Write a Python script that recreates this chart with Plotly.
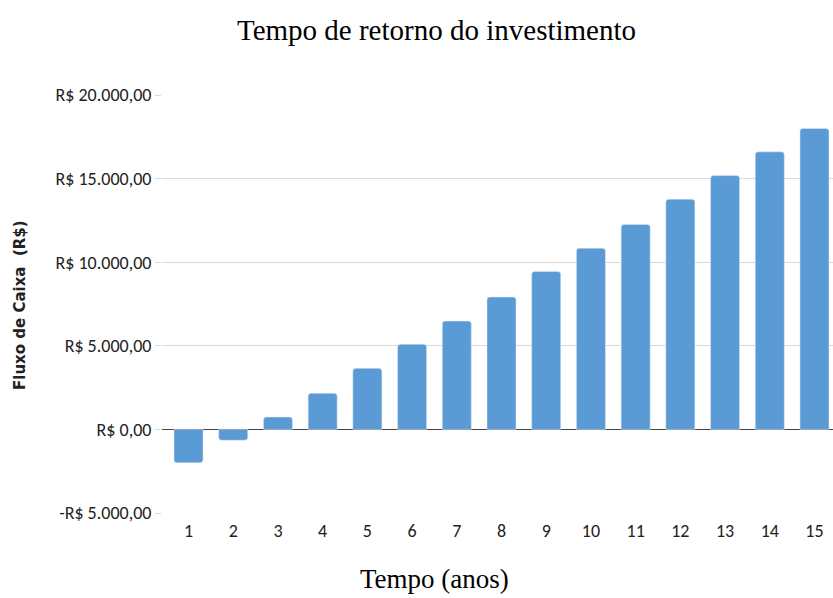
import plotly.graph_objects as go

anos = list(range(1, 16))
fluxo = [-2000, -650, 740, 2160, 3650, 5090, 6480, 7920, 9440, 10840, 12260, 13770, 15180, 16600, 18000]
y_ticks = [-5000, 0, 5000, 10000, 15000, 20000]
y_labels = ["-R$ 5.000,00", "R$ 0,00", "R$ 5.000,00", "R$ 10.000,00", "R$ 15.000,00", "R$ 20.000,00"]

tick_family = "Carlito, 'Liberation Sans Narrow', 'DejaVu Sans Condensed', 'Open Sans'"

fig = go.Figure(go.Bar(x=anos, y=fluxo, marker_color="#5b9bd5", width=0.65))

fig.update_layout(
    width=833, height=598,
    margin=dict(l=162, r=0, t=95, b=85),
    plot_bgcolor="white", paper_bgcolor="white",
    barcornerradius=3,
    showlegend=False,
    title=dict(text="Tempo de retorno do investimento", x=436.5/833, xanchor="center",
               y=1 - 30/598, yanchor="middle",
               font=dict(family="Liberation Serif", size=29, color="black")),
    annotations=[
        dict(text="Tempo (anos)", xref="paper", yref="paper", x=(434.5-162)/671, y=(513-579)/418,
             xanchor="center", yanchor="middle", showarrow=False,
             font=dict(family="Liberation Serif", size=27, color="black")),
        dict(text="Fluxo de Caixa  (R$)", xref="paper", yref="paper", x=(20-162)/671, y=(513-305)/418,
             xanchor="center", yanchor="middle", showarrow=False, textangle=-90,
             font=dict(family="DejaVu Sans", size=15, color="#222", weight="bold")),
    ],
)
fig.update_xaxes(
    range=[0.407, 15.414], tickvals=anos, ticktext=[str(a) for a in anos],
    showgrid=False, showline=False, zeroline=False,
    tickfont=dict(family=tick_family, size=18, color="#222"),
    ticklabelstandoff=5,
)
fig.update_yaxes(
    range=[-5000, 20000], tickvals=y_ticks, ticktext=y_labels,
    showgrid=True, gridcolor="#d9d9d9", gridwidth=1,
    zeroline=True, zerolinecolor="#444", zerolinewidth=1.3,
    ticks="outside", ticklen=6, tickcolor="#d9d9d9",
    tickfont=dict(family=tick_family, size=18, color="#222"),
)
fig.write_html("out.html", config={"displayModeBar": False},
               post_script="document.body.style.margin='0px';document.body.style.overflow='hidden';")
